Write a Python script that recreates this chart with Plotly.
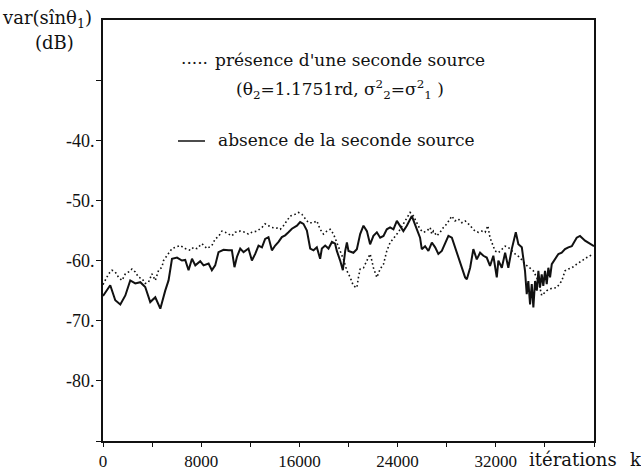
import plotly.graph_objects as go

# Iteration index k and variance (dB) of the sin(theta1) estimate
k_solid = [0, 590, 1000, 1410, 1820, 2220, 2630, 3040, 3440, 3850,
           4260, 4670, 5070, 5340, 5620, 6030, 6430, 6700, 6970, 7250,
           7520, 7920, 8190, 8600, 8870, 9140, 9410, 9820, 10230, 10500,
           10710, 10910, 11180, 11450, 11850, 12130, 12400, 12670, 12950, 13210,
           13480, 13760, 14030, 14300, 14570, 14840, 15110, 15390, 15800, 16060,
           16330, 16610, 16880, 17150, 17420, 17690, 17830, 18100, 18370, 18650,
           18910, 19050, 19320, 19540, 19730, 19870, 20000, 20400, 20680, 20950,
           21220, 21500, 21760, 22030, 22310, 22580, 22850, 23120, 23390, 23660,
           23940, 24210, 24470, 24750, 25160, 25570, 25830, 25970, 26240, 26510,
           26790, 27060, 27320, 27600, 27870, 28140, 28420, 28680, 28950, 29230,
           29500, 29640, 29910, 30170, 30450, 30720, 30990, 31260, 31530, 31800,
           32080, 32210, 32490, 32760, 33020, 33300, 33430, 33630, 33840, 34120,
           34380, 34520, 34650, 34790, 34930, 35060, 35200, 35340, 35470, 35600,
           35740, 35870, 36010, 36150, 36280, 36420, 36560, 36830, 37100, 37370,
           37640, 37910, 38190, 38590, 38860, 39270, 39810, 40000]
var_absence = [-65.9, -64.1, -66.6, -67.3, -65.8, -63.3, -63.8, -63.6, -64.4, -66.9,
               -66.1, -68.0, -65.0, -63.3, -59.7, -59.5, -60.0, -59.9, -61.6, -59.7,
               -60.8, -60.1, -60.8, -60.5, -61.6, -60.8, -58.6, -58.2, -58.3, -58.3,
               -61.1, -59.4, -58.0, -58.6, -58.0, -60.0, -58.9, -57.5, -57.8, -56.4,
               -56.1, -58.3, -57.5, -56.9, -56.1, -55.8, -55.3, -54.7, -54.2, -53.6,
               -53.9, -55.0, -58.0, -58.3, -57.8, -59.7, -58.0, -57.5, -58.0, -56.9,
               -57.2, -58.4, -60.0, -61.6, -58.4, -57.0, -58.4, -58.7, -58.1, -55.6,
               -54.2, -55.1, -57.3, -55.9, -55.3, -56.2, -55.9, -54.8, -54.5, -54.8,
               -53.4, -54.2, -55.1, -54.2, -52.6, -54.8, -56.2, -58.1, -57.6, -58.4,
               -57.0, -57.8, -58.9, -58.4, -57.0, -55.9, -56.2, -57.8, -59.2, -61.2,
               -62.8, -63.1, -61.2, -58.1, -59.8, -58.7, -59.2, -59.5, -60.9, -59.2,
               -62.8, -60.0, -61.2, -58.7, -61.2, -58.1, -57.0, -55.3, -57.3, -57.8,
               -61.7, -65.6, -63.4, -67.3, -63.9, -67.8, -63.4, -65.0, -61.7, -64.5,
               -62.3, -64.2, -61.7, -63.9, -61.2, -62.8, -60.6, -59.8, -58.9, -58.7,
               -58.1, -57.8, -57.6, -56.2, -55.9, -56.7, -57.3, -57.6]

k_dot = [0, 460, 730, 1000, 1270, 1550, 1820, 2080, 2360, 2630,
         2900, 3180, 3440, 3710, 3990, 4260, 4530, 4800, 4930, 5210,
         5620, 5890, 6290, 6700, 7110, 7380, 7650, 8060, 8470, 8870,
         9140, 9410, 9690, 9960, 10230, 10500, 10770, 11180, 11590, 11850,
         12130, 12540, 12950, 13210, 13480, 13760, 14170, 14440, 14700, 14980,
         15250, 15660, 15930, 16200, 16470, 16740, 17150, 17420, 17690, 17960,
         18240, 18510, 18780, 19050, 19320, 19590, 19870, 20140, 20400, 20680,
         20810, 20950, 21220, 21500, 21760, 21900, 22030, 22310, 22580, 22850,
         23120, 23390, 23660, 23940, 24210, 24470, 24750, 25020, 25290, 25570,
         25830, 26100, 26380, 26650, 26790, 26920, 27190, 27460, 27730, 28010,
         28280, 28420, 28680, 28950, 29230, 29500, 29770, 30040, 30310, 30580,
         30860, 31130, 31350, 31530, 31670, 31940, 32210, 32490, 32760, 33020,
         33300, 33570, 33980, 34380, 35060, 35470, 35740, 36150, 36560, 36960,
         37370, 37640, 37910, 38190, 38590, 39000, 39410, 39940]
var_presence = [-64.0, -62.2, -61.6, -61.9, -62.8, -63.3, -62.2, -61.9, -61.4, -61.9,
                -62.8, -63.0, -63.8, -63.6, -62.2, -63.3, -61.6, -61.1, -60.0, -59.2,
                -58.0, -57.8, -57.5, -58.0, -58.3, -57.8, -58.0, -57.2, -58.0, -57.5,
                -56.4, -56.0, -55.1, -55.3, -55.6, -55.9, -55.3, -55.1, -55.3, -55.6,
                -55.3, -55.1, -54.5, -53.9, -54.2, -54.5, -54.6, -54.8, -54.2, -53.4,
                -52.6, -52.3, -52.0, -52.3, -53.1, -53.7, -53.7, -53.4, -54.8, -55.6,
                -55.1, -54.8, -55.6, -57.0, -58.7, -59.8, -61.7, -62.8, -64.2, -64.5,
                -62.8, -61.4, -61.2, -60.0, -58.9, -60.0, -61.2, -62.8, -61.4, -60.6,
                -58.4, -57.0, -56.4, -55.6, -54.8, -53.9, -53.1, -52.0, -52.6, -53.9,
                -54.8, -55.3, -55.1, -54.5, -55.6, -55.1, -55.9, -55.3, -54.5, -53.9,
                -53.1, -52.6, -53.4, -53.1, -53.7, -53.4, -53.9, -54.5, -55.1, -55.3,
                -55.1, -55.3, -54.2, -56.2, -57.0, -58.4, -58.7, -58.1, -57.6, -57.8,
                -58.4, -58.9, -59.5, -60.6, -61.7, -63.4, -65.8, -65.0, -64.6, -64.5,
                -63.4, -61.7, -61.4, -61.2, -60.6, -60.0, -59.5, -58.9]

x_tick_vals = [0, 4000, 8000, 12000, 16000, 20000, 24000, 28000, 32000, 36000, 40000]
x_tick_text = ["0", "", "8000", "", "16000", "", "24000", "", "32000", "", ""]
y_tick_vals = [-90, -80, -70, -60, -50, -40, -30]
y_tick_text = ["", "-80.", "-70.", "-60.", "-50.", "-40.", ""]

W, H = 641, 473
L, R, T, B = 103, 594, 20, 441
NUM_FONT = "Liberation Serif"
TEXT_FONT = "DejaVu Serif"
INK = "#111111"


def px(x):
    return (x - L) / (R - L)


def py(y):
    return 1 - (y - T) / (B - T)


fig = go.Figure()
fig.add_trace(go.Scatter(x=k_dot, y=var_presence, mode="lines",
                         line=dict(color=INK, width=1.6, dash="1.6px,2.6px"),
                         hoverinfo="skip"))
fig.add_trace(go.Scatter(x=k_solid, y=var_absence, mode="lines",
                         line=dict(color=INK, width=2.0),
                         hoverinfo="skip"))

title_font = dict(family=TEXT_FONT, size=18, color=INK)
legend_font = dict(family=TEXT_FONT, size=17, color=INK)
annotations = [
    dict(x=px(47), y=py(19), text="var(s\u00eenθ<sub>1</sub>)", xanchor="center", yanchor="middle", font=title_font),
    dict(x=px(54), y=py(43), text="(dB)", xanchor="center", yanchor="middle", font=title_font),
    dict(x=px(179), y=py(58), text=".....", xanchor="left", yanchor="middle", font=legend_font),
    dict(x=px(213), y=py(60), text="présence d'une seconde source", xanchor="left", yanchor="middle", font=legend_font),
    dict(x=px(340), y=py(89),
         text="(θ<sub>2</sub>=1.1751rd, σ<sup>2</sup><sub>2</sub>=σ<sup>2</sup><sub>1</sub> )",
         xanchor="center", yanchor="middle", font=legend_font),
    dict(x=px(216), y=py(140), text="absence de la seconde source", xanchor="left", yanchor="middle", font=legend_font),
    dict(x=px(527), y=py(460), text="itérations", xanchor="left", yanchor="middle", font=title_font),
    dict(x=px(628), y=py(460), text="k", xanchor="left", yanchor="middle", font=title_font),
]
for a in annotations:
    a.update(xref="paper", yref="paper", showarrow=False)

fig.update_layout(
    width=W, height=H,
    margin=dict(l=L, r=W - R, t=T, b=H - B, pad=0),
    paper_bgcolor="white", plot_bgcolor="white",
    showlegend=False,
    annotations=annotations,
    shapes=[dict(type="line", xref="paper", yref="paper",
                 x0=px(178), x1=px(205), y0=py(141), y1=py(141),
                 line=dict(color=INK, width=1.5))],
    xaxis=dict(range=[0, 40000], tickvals=x_tick_vals, ticktext=x_tick_text,
               automargin=False,
               showgrid=False, zeroline=False, showline=True, mirror=True,
               linecolor=INK, linewidth=1.5, ticks="outside", ticklen=4,
               tickwidth=1.2, tickcolor=INK, ticklabelstandoff=0,
               tickfont=dict(family=NUM_FONT, size=17, color=INK)),
    yaxis=dict(range=[-90, -20], tickvals=y_tick_vals, ticktext=y_tick_text,
               automargin=False,
               showgrid=False, zeroline=False, showline=True, mirror=True,
               linecolor=INK, linewidth=1.8, ticks="outside", ticklen=5,
               tickwidth=1.2, tickcolor=INK, ticklabelstandoff=-2,
               tickfont=dict(family=NUM_FONT, size=18, color=INK)),
)

fig.write_html("out.html")
